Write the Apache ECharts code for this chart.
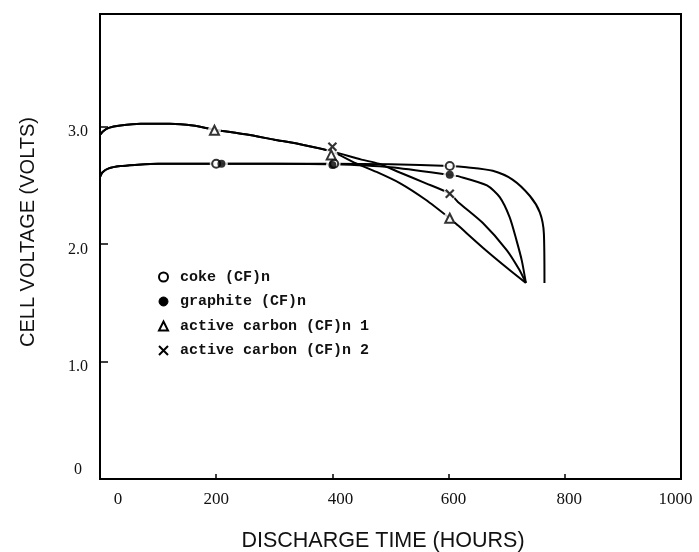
<!DOCTYPE html>
<html>
<head>
<meta charset="utf-8">
<script src="https://cdn.jsdelivr.net/npm/echarts@6/dist/echarts.min.js"></script>
<style>html,body{margin:0;padding:0;background:#fff}#c{width:699px;height:552px}</style>
</head>
<body>
<div id="c"></div>
<script>
// ---- data ----
const seriesNames = ['coke (CF)n', 'graphite (CF)n', 'active carbon (CF)n 1', 'active carbon (CF)n 2'];

const cokeCurve = [[0,2.57],[4,2.61],[15,2.645],[35,2.665],[60,2.675],[100,2.685],[200,2.685],[300,2.685],[400,2.685],[500,2.68],[602,2.665],[631,2.655],[676,2.625],[710,2.55],[740,2.41],[757,2.27],[764,2.09],[765,1.67]];
const graphiteCurve = [[0,2.57],[4,2.61],[15,2.645],[35,2.665],[60,2.675],[100,2.685],[200,2.685],[300,2.685],[400,2.68],[500,2.655],[602,2.59],[619,2.575],[666,2.50],[688,2.40],[705,2.23],[717,2.03],[726,1.86],[733,1.67]];
const active1Curve = [[0,2.93],[5,2.96],[15,2.99],[35,3.01],[70,3.025],[120,3.025],[160,3.01],[197,2.975],[250,2.935],[300,2.89],[350,2.845],[398,2.79],[440,2.69],[476,2.615],[516,2.52],[560,2.38],[602,2.22],[616,2.16],[659,1.97],[705,1.78],[733,1.67]];
const active2Curve = [[0,2.93],[5,2.96],[15,2.99],[35,3.01],[70,3.025],[120,3.025],[160,3.01],[197,2.975],[250,2.935],[300,2.89],[350,2.845],[400,2.79],[450,2.72],[480,2.685],[516,2.61],[560,2.52],[602,2.43],[616,2.36],[659,2.18],[700,1.95],[722,1.78],[733,1.67]];

const cokeMarks = [[200,2.685],[403,2.685],[602,2.665]];
const graphiteMarks = [[209,2.685],[400,2.675],[602,2.59]];
const active1Marks = [[197,2.97],[398,2.76],[602,2.22]];
const active2Marks = [[400,2.83],[602,2.43]];

const xTickValues = [0,200,400,600,800,1000];
const xTickLabels = ['0','200','400','600','800','1000'];
const yTickValues = [0,1,2,3];
const yTickLabels = ['0','1.0','2.0','3.0'];

// ---- chart ----
const chart = echarts.init(document.getElementById('c'), null, {renderer:'canvas'});
const black = '#111';
const xRich = {
  l0:{padding:[0,0,0,36]}, l1:{padding:[0,0,0,0]}, l2:{padding:[0,0,0,16]},
  l3:{padding:[0,0,0,10]}, l4:{padding:[0,0,0,9]}, l5:{padding:[0,11,0,0]}
};
const yRich = {
  l0:{padding:[0,6,18,0]}, l1:{padding:[11,0,0,0]}, l2:{padding:[11,0,0,0]}, l3:{padding:[11,0,0,0]}
};
Object.values(xRich).forEach(r=>{r.fontFamily='Liberation Serif';r.fontSize=17;r.color=black;});
Object.values(yRich).forEach(r=>{r.fontFamily='Liberation Serif';r.fontSize=16;r.color=black;});

function lineSeries(name, data){
  return {name, type:'line', data, smooth:0.25, symbol:'none', lineStyle:{color:'#000', width:2}, z:2, silent:true};
}
function backing(data){
  return {type:'scatter', data, symbol:'circle', symbolSize:13, itemStyle:{color:'#fff'}, z:3, silent:true};
}
const xPath = 'path://M0,0L10,10M10,0L0,10';

chart.setOption({
  animation:false,
  backgroundColor:'#fff',
  grid:{left:100, right:18, top:14, bottom:73, show:true, borderColor:'#000', borderWidth:2},
  xAxis:{
    type:'value', min:0, max:1000, interval:200,
    axisLine:{show:false}, splitLine:{show:false},
    axisTick:{show:true, inside:true, length:5, lineStyle:{color:'#000', width:1.5}},
    axisLabel:{margin:12, formatter:(v)=>{const i=xTickValues.indexOf(v); return i<0?'':'{l'+i+'|'+xTickLabels[i]+'}';}, rich:xRich}
  },
  yAxis:{
    type:'value', min:0, max:3.96, interval:1,
    axisLine:{show:false}, splitLine:{show:false},
    axisTick:{show:true, inside:true, length:8, lineStyle:{color:'#000', width:1.5}},
    axisLabel:{margin:12, showMaxLabel:false, formatter:(v)=>{const i=yTickValues.indexOf(v); return i<0?'':'{l'+i+'|'+yTickLabels[i]+'}';}, rich:yRich}
  },
  legend:{
    orient:'vertical', left:153, top:264.5, itemWidth:9, itemHeight:9, itemGap:9.5,
    selectedMode:false,
    textStyle:{fontFamily:'Liberation Mono', fontWeight:'bold', fontSize:15, lineHeight:15, color:black, padding:[0,0,0,7]},
    data:[
      {name:seriesNames[0], icon:'circle', itemStyle:{color:'#fff', borderColor:'#000', borderWidth:2}},
      {name:seriesNames[1], icon:'circle', itemStyle:{color:'#000', borderColor:'#000', borderWidth:1}},
      {name:seriesNames[2], icon:'triangle', itemStyle:{color:'#fff', borderColor:'#000', borderWidth:2}},
      {name:seriesNames[3], icon:xPath, itemStyle:{color:'rgba(0,0,0,0)', borderColor:'#000', borderWidth:2}}
    ]
  },
  graphic:[
    {type:'text', x:383, y:541, style:{text:'DISCHARGE TIME (HOURS)', align:'center', verticalAlign:'middle', font:'21.5px "Liberation Sans"', fill:black}},
    {type:'text', rotation:Math.PI/2, x:28, y:232, style:{text:'CELL VOLTAGE (VOLTS)', align:'center', verticalAlign:'middle', font:'20px "Liberation Sans"', fill:black}}
  ],
  series:[
    lineSeries(seriesNames[0], cokeCurve),
    lineSeries(seriesNames[1], graphiteCurve),
    lineSeries(seriesNames[2], active1Curve),
    lineSeries(seriesNames[3], active2Curve),
    backing(cokeMarks), backing(graphiteMarks), backing(active1Marks), backing(active2Marks),
    {name:seriesNames[0], type:'scatter', data:cokeMarks, symbol:'circle', symbolSize:8, itemStyle:{color:'#fff', borderColor:'#000', borderWidth:2}, z:5},
    {name:seriesNames[1], type:'scatter', data:graphiteMarks, symbol:'circle', symbolSize:8, itemStyle:{color:'#000'}, z:5},
    {name:seriesNames[2], type:'scatter', data:active1Marks, symbol:'triangle', symbolSize:9, itemStyle:{color:'#fff', borderColor:'#000', borderWidth:2}, z:5},
    {name:seriesNames[3], type:'scatter', data:active2Marks, symbol:xPath, symbolSize:8, itemStyle:{color:'rgba(0,0,0,0)', borderColor:'#000', borderWidth:2.2}, z:5}
  ]
});
</script>
</body>
</html>
